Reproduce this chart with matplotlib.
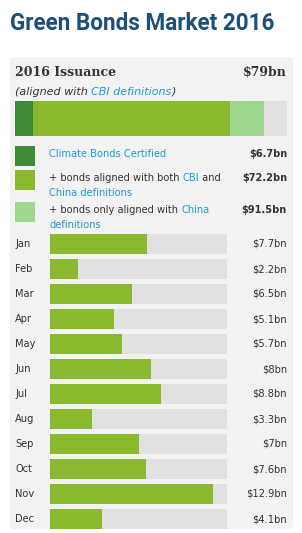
import matplotlib
matplotlib.use("Agg")
import matplotlib.pyplot as plt
from matplotlib.patches import Rectangle, FancyBboxPatch

# data
months = ["Jan", "Feb", "Mar", "Apr", "May", "Jun",
          "Jul", "Aug", "Sep", "Oct", "Nov", "Dec"]
monthly = [7.7, 2.2, 6.5, 5.1, 5.7, 8.0, 8.8, 3.3, 7.0, 7.6, 12.9, 4.1]
monthly_labels = ["$7.7bn", "$2.2bn", "$6.5bn", "$5.1bn", "$5.7bn", "$8bn",
                  "$8.8bn", "$3.3bn", "$7bn", "$7.6bn", "$12.9bn", "$4.1bn"]
monthly_max = 14

segments = [6.7, 72.2, 12.6]   # certified, CBI+China, China only
segment_labels = ["$6.7bn", "$72.2bn", "$91.5bn"]
stack_max = 100
total_label = "$79bn"

# colours
C_DARK = "#3d8b37"
C_GREEN = "#8ab82f"
C_LIGHT = "#9dd88e"
C_TRACK = "#e1e1e1"
C_PANEL = "#f2f2f2"
C_TITLE = "#1b4f7c"
C_LINK = "#1e9ad6"
C_TEXT = "#333333"

W, H = 302, 533
fig = plt.figure(figsize=(W / 100, H / 100), dpi=100)
ax = fig.add_axes([0, 0, 1, 1])
ax.set_xlim(0, W)
ax.set_ylim(H, 0)
ax.axis("off")

FS = 7.1
FAM = "DejaVu Sans"

fig.canvas.draw()
renderer = fig.canvas.get_renderer()

# title, sized to span the same width as the reference
title = ax.text(10, 24, "Green Bonds Market 2016", fontsize=18, fontweight="bold",
                color=C_TITLE, family="Roboto", va="center", ha="left")
tw = title.get_window_extent(renderer=renderer).width
title.set_fontsize(18 * 265 / tw)

ax.add_patch(FancyBboxPatch((10, 57), 283, 472, boxstyle="round,pad=0,rounding_size=4",
                            fc=C_PANEL, ec="none"))

ax.text(15, 72, "2016 Issuance", fontsize=9, fontweight="bold", family="DejaVu Serif",
        color=C_TEXT, va="center")
ax.text(287, 72, total_label, fontsize=9, fontweight="bold", family="DejaVu Serif",
        color=C_TEXT, va="center", ha="right")


def rich_line(x, y, parts, **kw):
    # draw text pieces one after another, each with its own colour
    for txt, col in parts:
        t = ax.text(x, y, txt, color=col, va="center", ha="left", **kw)
        bb = t.get_window_extent(renderer=renderer)
        x += bb.width


rich_line(15, 92, [("(aligned with ", C_TEXT), ("CBI definitions", C_LINK), (")", C_TEXT)],
          fontsize=8, family=FAM, style="italic")

# stacked bar
ax_s = fig.add_axes([15 / W, 1 - 136 / H, 272 / W, 35 / H])
ax_s.barh(0, stack_max, height=1, color=C_TRACK)
left = 0
for val, col in zip(segments, [C_DARK, C_GREEN, C_LIGHT]):
    ax_s.barh(0, val, left=left, height=1, color=col)
    left += val
ax_s.set_xlim(0, stack_max)
ax_s.set_ylim(-0.5, 0.5)
ax_s.axis("off")

# legend
legend_rows = [
    (146, [[("Climate Bonds Certified", C_LINK)]], 154),
    (170, [[("+ bonds aligned with both ", C_TEXT), ("CBI", C_LINK), (" and", C_TEXT)],
           [("China definitions", C_LINK)]], 178),
    (202, [[("+ bonds only aligned with ", C_TEXT), ("China", C_LINK)],
           [("definitions", C_LINK)]], 210),
]
for (ytop, lines, ytxt), col, lab in zip(legend_rows, [C_DARK, C_GREEN, C_LIGHT], segment_labels):
    ax.add_patch(Rectangle((15, ytop), 20, 20, fc=col, ec="none"))
    for k, parts in enumerate(lines):
        rich_line(49, ytxt + 15.5 * k, parts, fontsize=FS, family=FAM)
    ax.text(287, ytxt, lab, fontsize=FS, fontweight="bold", family=FAM,
            color=C_TEXT, va="center", ha="right")

# monthly bars
row0, pitch = 244, 25
top = row0 - pitch / 2
bottom = row0 + pitch * (len(months) - 0.5)
ax_m = fig.add_axes([50 / W, 1 - bottom / H, 177 / W, (bottom - top) / H])
ypos = list(range(len(months)))
ax_m.barh(ypos, [monthly_max] * len(months), height=0.8, color=C_TRACK)
ax_m.barh(ypos, monthly, height=0.8, color=C_GREEN)
ax_m.set_xlim(0, monthly_max)
ax_m.set_ylim(len(months) - 0.5, -0.5)
ax_m.axis("off")

for i, (m, lab) in enumerate(zip(months, monthly_labels)):
    y = row0 + pitch * i
    ax.text(15, y, m, fontsize=FS, family=FAM, color=C_TEXT, va="center")
    ax.text(287, y, lab, fontsize=FS, family=FAM, color=C_TEXT, va="center", ha="right")

fig.savefig("out.png", dpi=100, facecolor="white")
